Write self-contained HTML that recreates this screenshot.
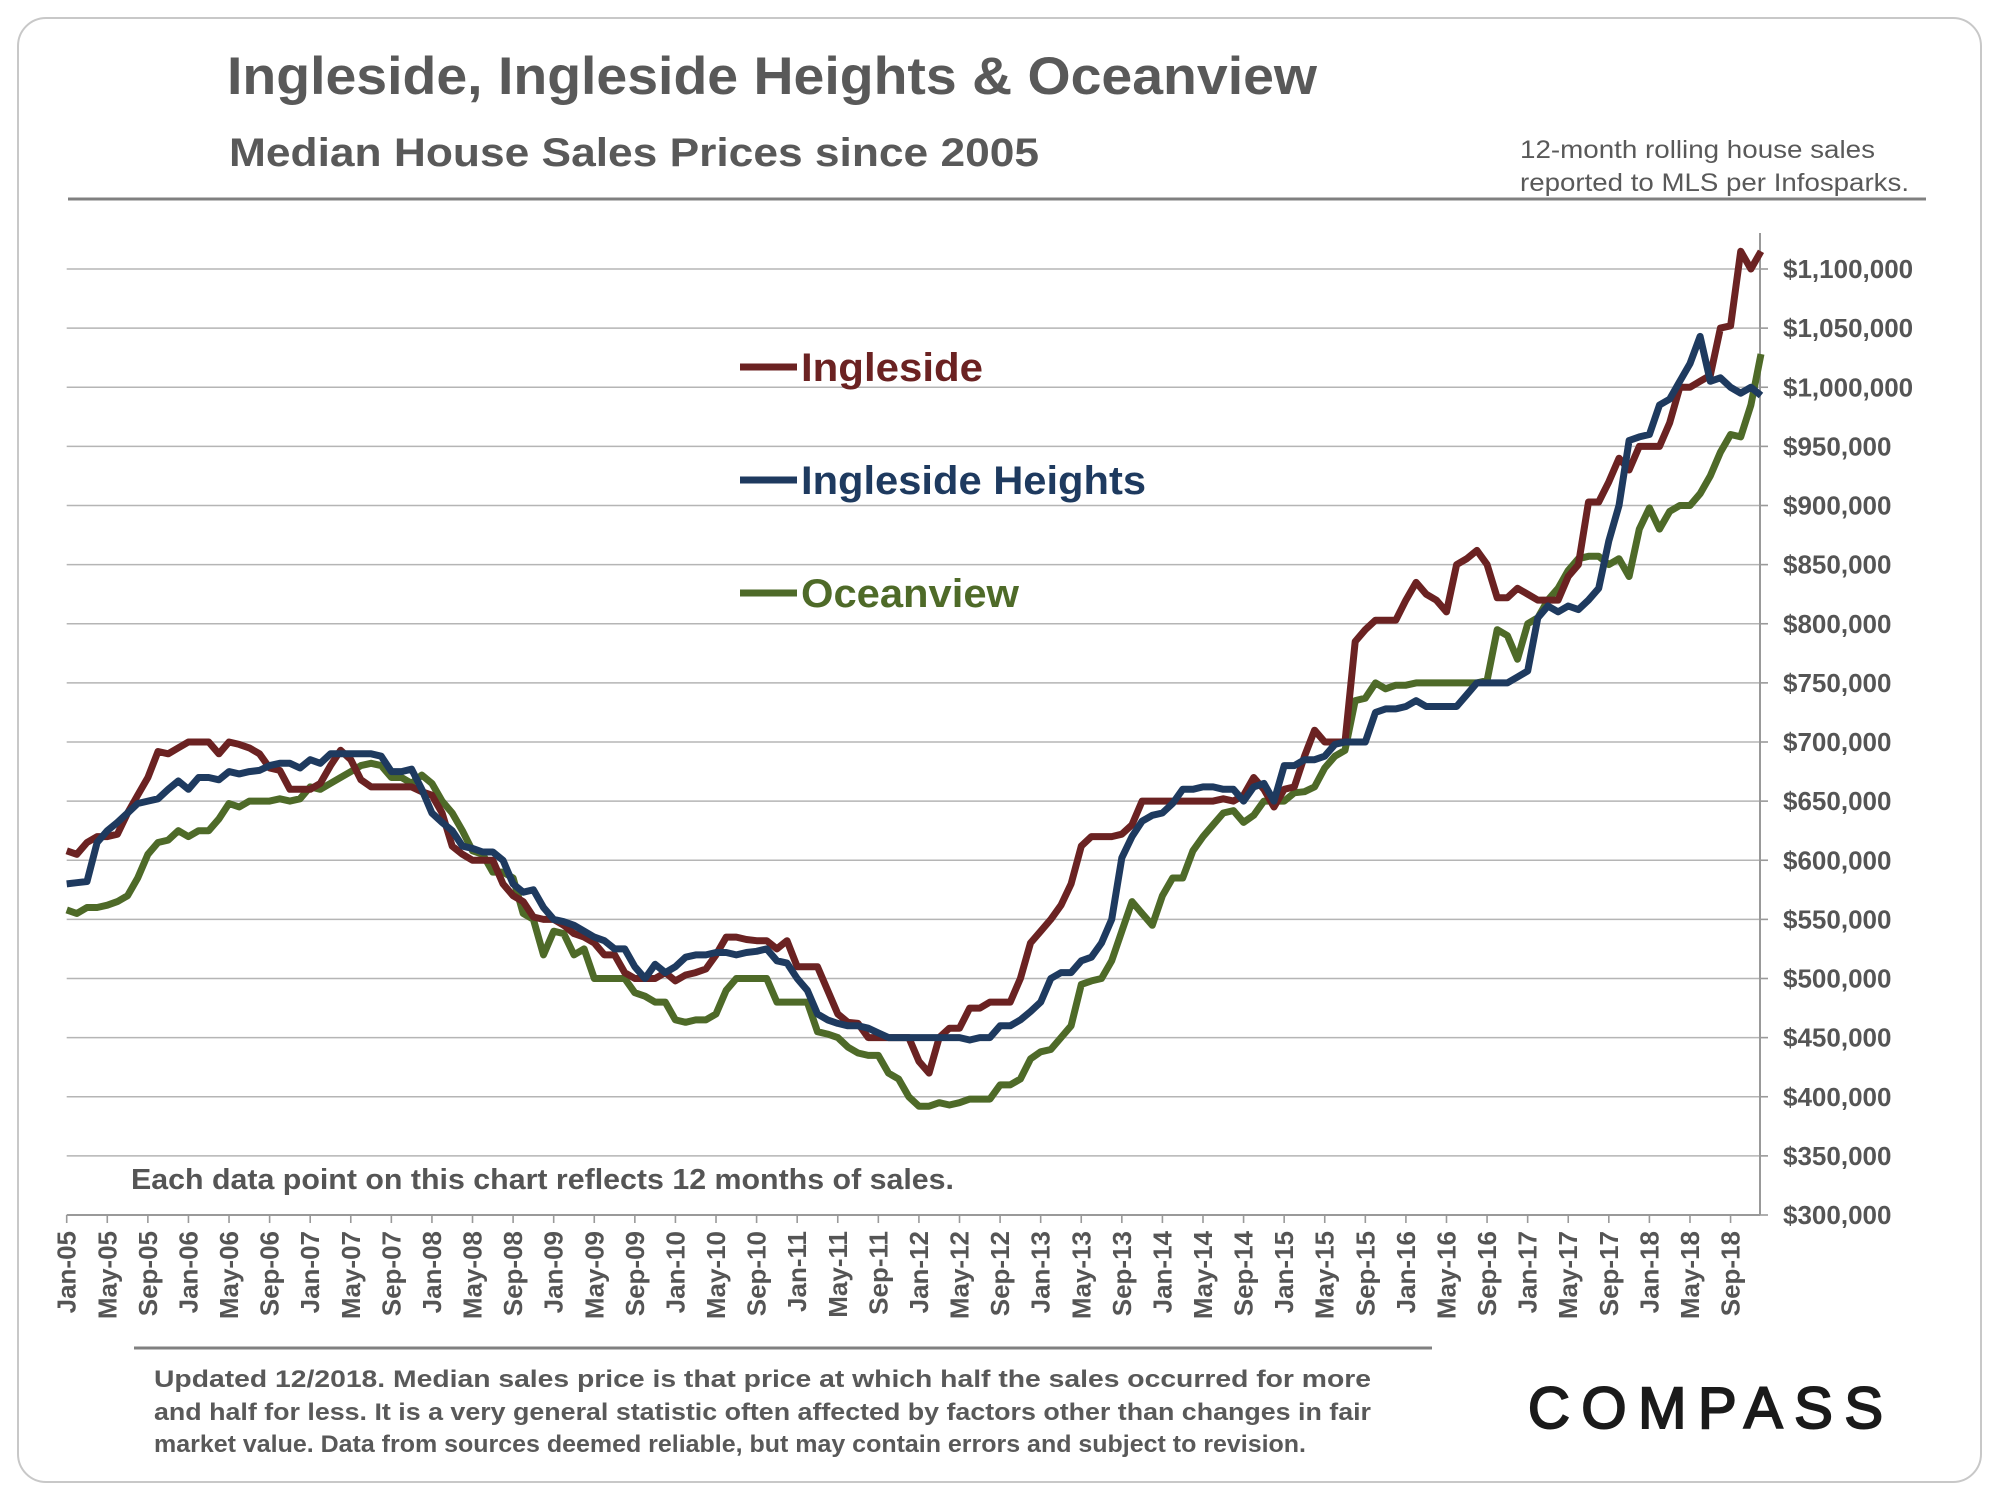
<!DOCTYPE html>
<html><head><meta charset="utf-8">
<style>
body{margin:0;background:#fff;}
#wrap{position:relative;width:2000px;height:1500px;overflow:hidden;font-family:"Liberation Sans",sans-serif;}
</style></head>
<body>
<div id="wrap">
<svg id="svg" width="2000" height="1500" viewBox="0 0 2000 1500" xmlns="http://www.w3.org/2000/svg">
<rect x="18" y="18" width="1963" height="1464" rx="28" fill="#fff" stroke="#c8c8c8" stroke-width="2"/>
<text x="227" y="94" font-size="53" font-weight="bold" fill="#595959" textLength="1090" lengthAdjust="spacingAndGlyphs">Ingleside, Ingleside Heights &amp; Oceanview</text>
<text x="229" y="166" font-size="40" font-weight="bold" fill="#595959" textLength="810" lengthAdjust="spacingAndGlyphs">Median House Sales Prices since 2005</text>
<text x="1520" y="158" font-size="25" fill="#595959" textLength="355" lengthAdjust="spacingAndGlyphs">12-month rolling house sales</text>
<text x="1520" y="191" font-size="25" fill="#595959" textLength="389" lengthAdjust="spacingAndGlyphs">reported to MLS per Infosparks.</text>
<line x1="68" y1="199" x2="1926" y2="199" stroke="#808080" stroke-width="3"/>
<g id="grid"></g>
<g id="yaxis"></g>
<g id="xaxis"></g>
<g id="series"></g>
<g>
<g><line x1="740" y1="367" x2="797" y2="367" stroke="#6b2222" stroke-width="7"/><text x="801" y="381" font-size="40" font-weight="bold" fill="#6b2222" textLength="182" lengthAdjust="spacingAndGlyphs">Ingleside</text></g>
<g><line x1="740" y1="480" x2="797" y2="480" stroke="#1e3a5f" stroke-width="7"/><text x="801" y="494" font-size="40" font-weight="bold" fill="#1e3a5f" textLength="345" lengthAdjust="spacingAndGlyphs">Ingleside Heights</text></g>
<g><line x1="740" y1="593" x2="797" y2="593" stroke="#4e6a28" stroke-width="7"/><text x="801" y="607" font-size="40" font-weight="bold" fill="#4e6a28" textLength="218" lengthAdjust="spacingAndGlyphs">Oceanview</text></g>
</g>
<text x="131" y="1189" font-size="29" font-weight="bold" fill="#555" textLength="823" lengthAdjust="spacingAndGlyphs">Each data point on this chart reflects 12 months of sales.</text>
<line x1="134" y1="1348" x2="1432" y2="1348" stroke="#808080" stroke-width="3"/>
<g font-size="24" font-weight="bold" fill="#595959">
<text x="154" y="1387" textLength="1217" lengthAdjust="spacingAndGlyphs">Updated 12/2018. Median sales price is that price at which half the sales occurred for more</text>
<text x="154" y="1420" textLength="1217" lengthAdjust="spacingAndGlyphs">and half for less. It is a very general statistic often affected by factors other than changes in fair</text>
<text x="154" y="1452" textLength="1152" lengthAdjust="spacingAndGlyphs">market value. Data from sources deemed reliable, but may contain errors and subject to revision.</text>
</g>
<text x="1528" y="1428" font-size="58" fill="#1a1a1a" stroke="#1a1a1a" stroke-width="2" letter-spacing="9" textLength="364" lengthAdjust="spacing">COMPASS</text>
</svg>
</div>
<script>
const ingleside=[608,605,615,620,620,622,640,655,670,692,690,695,
700,700,700,690,700,698,695,690,678,676,660,660,
660,665,680,693,685,668,662,662,662,662,662,658,
655,640,612,605,600,600,600,580,570,565,552,550,
550,545,538,535,530,520,520,505,500,500,500,505,
498,503,505,508,520,535,535,533,532,532,525,532,
510,510,510,490,470,463,462,450,450,450,450,450,
430,420,450,458,458,475,475,480,480,480,500,530,
540,550,562,580,612,620,620,620,622,630,650,650,
650,650,650,650,650,650,652,650,655,670,660,645,
660,662,688,710,700,700,700,785,795,803,803,803,
820,835,825,820,810,850,855,862,850,822,822,830,
825,820,820,820,840,850,903,903,920,940,930,950,
950,950,970,1000,1000,1005,1010,1050,1052,1115,1100,1115];
const heights=[580,581,582,615,625,632,640,648,650,652,660,667,
660,670,670,668,675,673,675,676,680,682,682,678,
685,682,690,690,690,690,690,688,675,675,677,660,
640,632,625,612,610,607,607,600,580,573,575,560,
550,548,545,540,535,532,525,525,510,500,512,505,
510,518,520,520,522,522,520,522,523,525,515,513,
500,490,470,465,462,460,460,458,454,450,450,450,
450,450,450,450,450,448,450,450,460,460,465,472,
480,500,505,505,515,518,530,550,602,620,633,638,
640,648,660,660,662,662,660,660,650,662,665,650,
680,680,685,685,688,698,700,700,700,725,728,728,
730,735,730,730,730,730,740,750,750,750,750,755,
760,805,815,810,815,812,820,830,870,900,955,958,
960,985,990,1005,1020,1043,1005,1008,1000,995,1000,993];
const oceanview=[558,555,560,560,562,565,570,585,605,615,617,625,
620,625,625,635,648,645,650,650,650,652,650,652,
662,660,665,670,675,680,682,680,670,670,665,672,
665,650,640,625,608,605,590,590,585,555,550,520,
540,538,520,525,500,500,500,500,488,485,480,480,
465,463,465,465,470,490,500,500,500,500,480,480,
480,480,455,453,450,442,437,435,435,420,415,400,
392,392,395,393,395,398,398,398,410,410,415,432,
438,440,450,460,495,498,500,515,540,565,555,545,
570,585,585,608,620,630,640,642,632,638,650,650,
650,657,658,662,678,688,693,735,737,750,745,748,
748,750,750,750,750,750,750,750,752,795,790,770,
800,805,820,830,845,855,857,857,850,855,840,880,
898,880,895,900,900,910,925,945,960,958,985,1028];
const yTicks=[300,350,400,450,500,550,600,650,700,750,800,850,900,950,1000,1050,1100];
const monthNames=["Jan","Feb","Mar","Apr","May","Jun","Jul","Aug","Sep","Oct","Nov","Dec"];
const startYear=2005, nMonths=168;

const NS="http://www.w3.org/2000/svg";
const X0=66.7, X1=1761, Y0=1215, Y1=269, VMIN=300, VMAX=1100;
const xs=i=>X0+(X1-X0)*i/(nMonths-1);
const ys=v=>Y0-(Y0-Y1)*(v-VMIN)/(VMAX-VMIN);
function mk(tag,attrs,parent){const e=document.createElementNS(NS,tag);for(const k in attrs)e.setAttribute(k,attrs[k]);parent.appendChild(e);return e;}
const grid=document.getElementById('grid'),yax=document.getElementById('yaxis'),xax=document.getElementById('xaxis'),ser=document.getElementById('series');
yTicks.forEach(v=>{
  const y=ys(v);
  if(v>VMIN){const g=mk('line',{x1:X0,x2:1760,y1:y,y2:y,stroke:'#b5b5b5','stroke-width':1.6},grid);
  
  }
  mk('line',{x1:1760,x2:1768,y1:y,y2:y,stroke:'#999','stroke-width':1.6},yax);
  const t=mk('text',{x:1783,y:y+9,'font-size':26,'font-weight':'bold',fill:'#555'},yax);
  
  
  t.textContent='$'+(v*1000).toLocaleString('en-US');
});
mk('line',{x1:1760,x2:1760,y1:233,y2:Y0,stroke:'#999','stroke-width':2},yax);
mk('line',{x1:X0,x2:1760,y1:Y0,y2:Y0,stroke:'#999','stroke-width':2},xax);
for(let i=0;i<nMonths;i+=4){
  const x=xs(i);
  mk('line',{x1:x,x2:x,y1:Y0,y2:Y0+8,stroke:'#999','stroke-width':1.6},xax);
  const lab=monthNames[i%12]+'-'+String((startYear+Math.floor(i/12))%100).padStart(2,'0');
  const t=mk('text',{x:0,y:0,'font-size':26,'font-weight':'bold',fill:'#555','text-anchor':'end',transform:`translate(${x+9},1231) rotate(-90)`},xax);
  
  
  t.textContent=lab;
}
function drawLine(arr,color,name){
  const d=arr.map((v,i)=>(i?'L':'M')+xs(i).toFixed(1)+' '+ys(v).toFixed(1)).join(' ');
  const p=mk('path',{d:d,fill:'none',stroke:color,'stroke-width':7,'stroke-linejoin':'round'},ser);
  
  
}
drawLine(oceanview,'#4e6a28','oceanview-line');
drawLine(ingleside,'#6b2222','ingleside-line');
drawLine(heights,'#1e3a5f','ingleside-heights-line');
</script>
</body></html>
